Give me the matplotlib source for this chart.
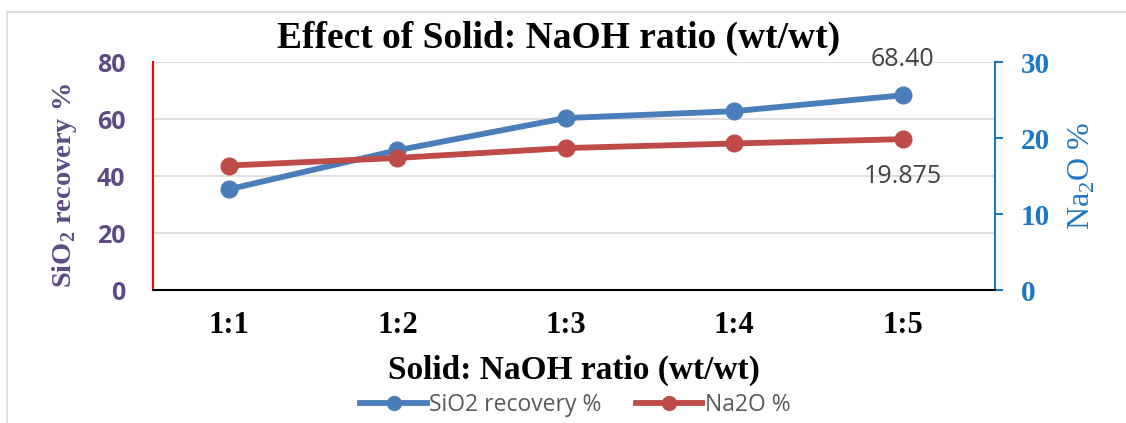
import numpy as np
import matplotlib.pyplot as plt
from matplotlib.patches import Rectangle
from matplotlib.lines import Line2D

ratios = ['1:1', '1:2', '1:3', '1:4', '1:5']
sio2_recovery = [35.4, 49.1, 60.4, 62.8, 68.40]
na2o = [16.4, 17.4, 18.7, 19.3, 19.875]

blue = '#4a7ebb'
red = '#be4b48'
purple = '#5e4b85'
axblue = '#1f77c4'

fig = plt.figure(figsize=(11.26, 4.23), dpi=100)
ax = fig.add_axes([0.136, 0.314, 0.748, 0.539])
ax2 = ax.twinx()

# outer chart frame
fig.patches.append(Rectangle((7 / 1126, -0.1), 1.2, 1 - 12 / 423 + 0.1,
                             transform=fig.transFigure, fill=False,
                             edgecolor='#d9d9d9', lw=1.2))

x = np.arange(len(ratios))
ax.plot(x, sio2_recovery, color=blue, lw=4.2, marker='o', ms=12, zorder=3)
ax2.plot(x, na2o, color=red, lw=4.2, marker='o', ms=12, zorder=3)

ax.set_xlim(-0.45, 4.55)
ax.set_ylim(0, 80)
ax2.set_ylim(0, 30)
ax.set_yticks([0, 20, 40, 60, 80])
ax2.set_yticks([0, 10, 20, 30])
ax.set_xticks(x)
ax.set_xticklabels(ratios, fontfamily='Liberation Serif', fontweight='bold', fontsize=22)
ax.tick_params(axis='x', length=0, pad=15)
ax.tick_params(axis='y', length=0, pad=20, labelcolor=purple, labelsize=18)
for t in ax.get_yticklabels():
    t.set_fontweight('bold')
    t.set_fontfamily('Open Sans')
ax2.tick_params(axis='y', length=6, width=1.5, color=axblue, pad=12,
                labelcolor=axblue, labelsize=21)
for t in ax2.get_yticklabels():
    t.set_fontweight('bold')
    t.set_fontfamily('Liberation Serif')

ax.grid(axis='y', color='#d9d9d9', lw=1.2)
ax.set_axisbelow(True)
for a in (ax, ax2):
    for s in a.spines.values():
        s.set_visible(False)
ax2.spines['left'].set_visible(True)
ax2.spines['left'].set_color('red')
ax2.spines['left'].set_linewidth(1.5)
ax2.spines['right'].set_visible(True)
ax2.spines['right'].set_color(axblue)
ax2.spines['right'].set_linewidth(1.5)
ax2.spines['bottom'].set_visible(True)
ax2.spines['bottom'].set_color('black')
ax2.spines['bottom'].set_linewidth(1.5)

ax.set_ylabel(r'SiO$_\mathregular{2}$ recovery %', fontfamily='Liberation Serif',
              fontweight='bold', fontsize=20.5, color=purple)
ax.yaxis.set_label_coords(-0.088, 0.46)
ax2.set_ylabel(r'Na$_\mathregular{2}$O %', fontfamily='Liberation Serif',
               fontsize=23, color=axblue)
ax2.yaxis.set_label_coords(1.085, 0.5)
ax.set_xlabel('Solid: NaOH ratio (wt/wt)', fontfamily='Liberation Serif',
              fontweight='bold', fontsize=24)
ax.xaxis.set_label_coords(0.5, -0.285)
fig.text(0.496, 0.91, 'Effect of Solid: NaOH ratio (wt/wt)', ha='center', va='center',
         fontfamily='Liberation Serif', fontweight='bold', fontsize=27)

ax.annotate(f'{sio2_recovery[-1]:.2f}', (x[-1], sio2_recovery[-1]), xytext=(0, 26),
            textcoords='offset points', ha='center', va='center',
            fontsize=18, color='#404040', fontfamily='Open Sans')
ax2.annotate(f'{na2o[-1]:g}', (x[-1], na2o[-1]), xytext=(0, -27),
             textcoords='offset points', ha='center', va='center',
             fontsize=18, color='#404040', fontfamily='Open Sans')

handles = [Line2D([], [], color=blue, lw=4.2, marker='o', ms=10),
           Line2D([], [], color=red, lw=4.2, marker='o', ms=10)]
leg = fig.legend(handles, ['SiO2 recovery %', 'Na2O %'], loc='center',
                 bbox_to_anchor=(0.511, 0.042), ncol=2, frameon=False,
                 prop={'family': 'Open Sans', 'size': 16.5}, handlelength=2.9,
                 columnspacing=1.5, handletextpad=0.1, borderpad=0)
for t in leg.get_texts():
    t.set_color('#595959')

fig.savefig('out.png', dpi=100)
